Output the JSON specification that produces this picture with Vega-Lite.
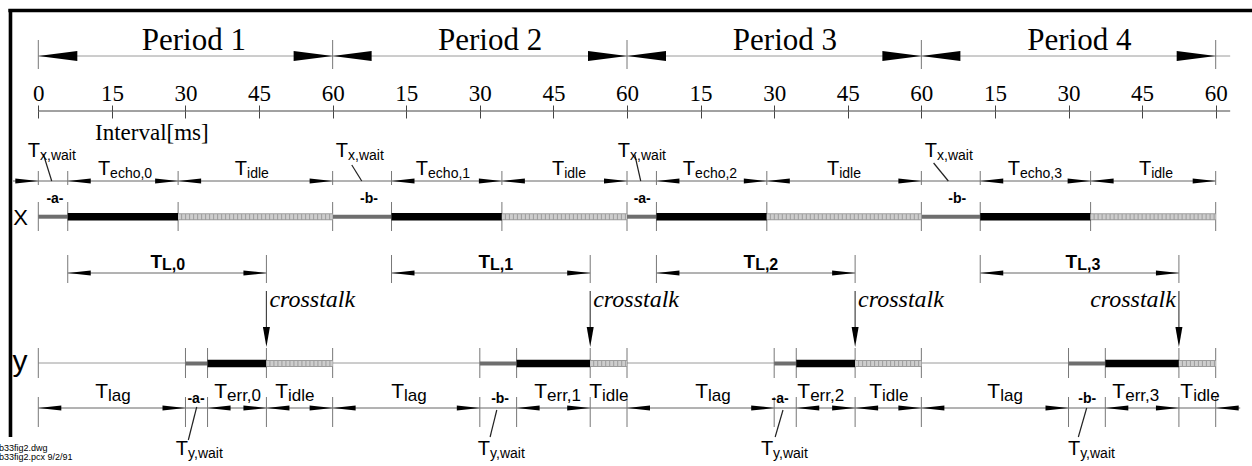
{
 "$schema": "https://vega.github.io/schema/vega-lite/v6.json",
 "width": 1252, "height": 466,
 "autosize": {"type": "none"},
 "padding": 0,
 "background": "white",
 "config": {"view": {"stroke": null}, "axis": {"grid": false}},
 "resolve": {"scale": {"color": "independent", "strokeWidth": "independent", "size": "independent", "shape": "independent"}, "axis": {"x": "independent"}},
 "encoding": {
  "x": {"field": "x", "type": "quantitative", "scale": {"domain": [0, 240], "range": [38.3, 1215.7], "nice": false, "zero": false}, "axis": null},
  "y": {"field": "y", "type": "quantitative", "scale": {"domain": [0, 466], "reverse": true, "nice": false, "zero": false}, "axis": null}
 },
 "datasets": {
  "lines": [
   {"x": -6.1, "x2": 247.4, "y": 10.5, "y2": 10.5, "kind": "frame"},
   {"x": -5.67, "x2": -5.67, "y": 9, "y2": 437, "kind": "frame"},
   {"x": 0, "x2": 242.95, "y": 56, "y2": 56, "kind": "light"},
   {"x": 0, "x2": 240, "y": 363, "y2": 363, "kind": "light"},
   {"x": 0, "x2": 242.95, "y": 111, "y2": 111, "kind": "axis"},
   {"x": -5.16, "x2": 240, "y": 181, "y2": 181, "kind": "dim"},
   {"x": 6, "x2": 46.5, "y": 273, "y2": 273, "kind": "dim"},
   {"x": 72, "x2": 112.5, "y": 273, "y2": 273, "kind": "dim"},
   {"x": 126, "x2": 166.5, "y": 273, "y2": 273, "kind": "dim"},
   {"x": 192, "x2": 232.5, "y": 273, "y2": 273, "kind": "dim"},
   {"x": 0, "x2": 245, "y": 408, "y2": 408, "kind": "dim"},
   {"x": 0, "x2": 0, "y": 40, "y2": 69, "kind": "tick"},
   {"x": 60, "x2": 60, "y": 40, "y2": 69, "kind": "tick"},
   {"x": 120, "x2": 120, "y": 40, "y2": 69, "kind": "tick"},
   {"x": 180, "x2": 180, "y": 40, "y2": 69, "kind": "tick"},
   {"x": 240, "x2": 240, "y": 40, "y2": 69, "kind": "tick"},
   {"x": 0, "x2": 0, "y": 171, "y2": 185, "kind": "tick"},
   {"x": 6, "x2": 6, "y": 171, "y2": 185, "kind": "tick"},
   {"x": 28.5, "x2": 28.5, "y": 171, "y2": 185, "kind": "tick"},
   {"x": 60, "x2": 60, "y": 171, "y2": 185, "kind": "tick"},
   {"x": 72, "x2": 72, "y": 171, "y2": 185, "kind": "tick"},
   {"x": 94.5, "x2": 94.5, "y": 171, "y2": 185, "kind": "tick"},
   {"x": 120, "x2": 120, "y": 171, "y2": 185, "kind": "tick"},
   {"x": 126, "x2": 126, "y": 171, "y2": 185, "kind": "tick"},
   {"x": 148.5, "x2": 148.5, "y": 171, "y2": 185, "kind": "tick"},
   {"x": 180, "x2": 180, "y": 171, "y2": 185, "kind": "tick"},
   {"x": 192, "x2": 192, "y": 171, "y2": 185, "kind": "tick"},
   {"x": 214.5, "x2": 214.5, "y": 171, "y2": 185, "kind": "tick"},
   {"x": 240, "x2": 240, "y": 171, "y2": 185, "kind": "tick"},
   {"x": 0, "x2": 0, "y": 202, "y2": 231, "kind": "tick"},
   {"x": 6, "x2": 6, "y": 202, "y2": 231, "kind": "tick"},
   {"x": 28.5, "x2": 28.5, "y": 202, "y2": 231, "kind": "tick"},
   {"x": 60, "x2": 60, "y": 202, "y2": 231, "kind": "tick"},
   {"x": 72, "x2": 72, "y": 202, "y2": 231, "kind": "tick"},
   {"x": 94.5, "x2": 94.5, "y": 202, "y2": 231, "kind": "tick"},
   {"x": 120, "x2": 120, "y": 202, "y2": 231, "kind": "tick"},
   {"x": 126, "x2": 126, "y": 202, "y2": 231, "kind": "tick"},
   {"x": 148.5, "x2": 148.5, "y": 202, "y2": 231, "kind": "tick"},
   {"x": 180, "x2": 180, "y": 202, "y2": 231, "kind": "tick"},
   {"x": 192, "x2": 192, "y": 202, "y2": 231, "kind": "tick"},
   {"x": 214.5, "x2": 214.5, "y": 202, "y2": 231, "kind": "tick"},
   {"x": 240, "x2": 240, "y": 202, "y2": 231, "kind": "tick"},
   {"x": 6, "x2": 6, "y": 255, "y2": 283, "kind": "tick"},
   {"x": 46.5, "x2": 46.5, "y": 255, "y2": 283, "kind": "tick"},
   {"x": 72, "x2": 72, "y": 255, "y2": 283, "kind": "tick"},
   {"x": 112.5, "x2": 112.5, "y": 255, "y2": 283, "kind": "tick"},
   {"x": 126, "x2": 126, "y": 255, "y2": 283, "kind": "tick"},
   {"x": 166.5, "x2": 166.5, "y": 255, "y2": 283, "kind": "tick"},
   {"x": 192, "x2": 192, "y": 255, "y2": 283, "kind": "tick"},
   {"x": 232.5, "x2": 232.5, "y": 255, "y2": 283, "kind": "tick"},
   {"x": 46.5, "x2": 46.5, "y": 291, "y2": 335, "kind": "xtalk"},
   {"x": 112.5, "x2": 112.5, "y": 291, "y2": 335, "kind": "xtalk"},
   {"x": 166.5, "x2": 166.5, "y": 291, "y2": 335, "kind": "xtalk"},
   {"x": 232.5, "x2": 232.5, "y": 291, "y2": 335, "kind": "xtalk"},
   {"x": 0, "x2": 0, "y": 348, "y2": 378, "kind": "tick"},
   {"x": 30, "x2": 30, "y": 348, "y2": 378, "kind": "tick"},
   {"x": 34.5, "x2": 34.5, "y": 348, "y2": 378, "kind": "tick"},
   {"x": 46.5, "x2": 46.5, "y": 348, "y2": 378, "kind": "tick"},
   {"x": 60, "x2": 60, "y": 348, "y2": 378, "kind": "tick"},
   {"x": 90, "x2": 90, "y": 348, "y2": 378, "kind": "tick"},
   {"x": 97.5, "x2": 97.5, "y": 348, "y2": 378, "kind": "tick"},
   {"x": 112.5, "x2": 112.5, "y": 348, "y2": 378, "kind": "tick"},
   {"x": 120, "x2": 120, "y": 348, "y2": 378, "kind": "tick"},
   {"x": 150, "x2": 150, "y": 348, "y2": 378, "kind": "tick"},
   {"x": 154.5, "x2": 154.5, "y": 348, "y2": 378, "kind": "tick"},
   {"x": 166.5, "x2": 166.5, "y": 348, "y2": 378, "kind": "tick"},
   {"x": 180, "x2": 180, "y": 348, "y2": 378, "kind": "tick"},
   {"x": 210, "x2": 210, "y": 348, "y2": 378, "kind": "tick"},
   {"x": 217.5, "x2": 217.5, "y": 348, "y2": 378, "kind": "tick"},
   {"x": 232.5, "x2": 232.5, "y": 348, "y2": 378, "kind": "tick"},
   {"x": 240, "x2": 240, "y": 348, "y2": 378, "kind": "tick"},
   {"x": 0, "x2": 0, "y": 397, "y2": 427, "kind": "tick"},
   {"x": 30, "x2": 30, "y": 397, "y2": 427, "kind": "tick"},
   {"x": 34.5, "x2": 34.5, "y": 397, "y2": 427, "kind": "tick"},
   {"x": 46.5, "x2": 46.5, "y": 397, "y2": 427, "kind": "tick"},
   {"x": 60, "x2": 60, "y": 397, "y2": 427, "kind": "tick"},
   {"x": 90, "x2": 90, "y": 397, "y2": 427, "kind": "tick"},
   {"x": 97.5, "x2": 97.5, "y": 397, "y2": 427, "kind": "tick"},
   {"x": 112.5, "x2": 112.5, "y": 397, "y2": 427, "kind": "tick"},
   {"x": 120, "x2": 120, "y": 397, "y2": 427, "kind": "tick"},
   {"x": 150, "x2": 150, "y": 397, "y2": 427, "kind": "tick"},
   {"x": 154.5, "x2": 154.5, "y": 397, "y2": 427, "kind": "tick"},
   {"x": 166.5, "x2": 166.5, "y": 397, "y2": 427, "kind": "tick"},
   {"x": 180, "x2": 180, "y": 397, "y2": 427, "kind": "tick"},
   {"x": 210, "x2": 210, "y": 397, "y2": 427, "kind": "tick"},
   {"x": 217.5, "x2": 217.5, "y": 397, "y2": 427, "kind": "tick"},
   {"x": 232.5, "x2": 232.5, "y": 397, "y2": 427, "kind": "tick"},
   {"x": 240, "x2": 240, "y": 397, "y2": 427, "kind": "tick"},
   {"x": 1.02, "x2": 2.73, "y": 154, "y2": 181, "kind": "leader"},
   {"x": 63.9, "x2": 65.93, "y": 165, "y2": 181, "kind": "leader"},
   {"x": 121.6, "x2": 122.8, "y": 155, "y2": 181, "kind": "leader"},
   {"x": 182.5, "x2": 185.5, "y": 163, "y2": 181, "kind": "leader"},
   {"x": 32.29, "x2": 30.58, "y": 407, "y2": 440, "kind": "leader"},
   {"x": 93.46, "x2": 92.09, "y": 410, "y2": 437, "kind": "leader"},
   {"x": 151.8, "x2": 150.2, "y": 410, "y2": 437, "kind": "leader"},
   {"x": 213.7, "x2": 212.0, "y": 408, "y2": 437, "kind": "leader"}
  ],
  "bars": [
   {"x": 0, "x2": 6, "y": 216.7, "kind": "wait"},
   {"x": 6, "x2": 28.5, "y": 216.7, "kind": "echo"},
   {"x": 28.5, "x2": 60, "y": 216.7, "kind": "idle"},
   {"x": 60, "x2": 72, "y": 216.7, "kind": "wait"},
   {"x": 72, "x2": 94.5, "y": 216.7, "kind": "echo"},
   {"x": 94.5, "x2": 120, "y": 216.7, "kind": "idle"},
   {"x": 120, "x2": 126, "y": 216.7, "kind": "wait"},
   {"x": 126, "x2": 148.5, "y": 216.7, "kind": "echo"},
   {"x": 148.5, "x2": 180, "y": 216.7, "kind": "idle"},
   {"x": 180, "x2": 192, "y": 216.7, "kind": "wait"},
   {"x": 192, "x2": 214.5, "y": 216.7, "kind": "echo"},
   {"x": 214.5, "x2": 240, "y": 216.7, "kind": "idle"},
   {"x": 30, "x2": 34.5, "y": 363.5, "kind": "wait"},
   {"x": 34.5, "x2": 46.5, "y": 363.5, "kind": "echo"},
   {"x": 46.5, "x2": 60, "y": 363.5, "kind": "idle"},
   {"x": 90, "x2": 97.5, "y": 363.5, "kind": "wait"},
   {"x": 97.5, "x2": 112.5, "y": 363.5, "kind": "echo"},
   {"x": 112.5, "x2": 120, "y": 363.5, "kind": "idle"},
   {"x": 150, "x2": 154.5, "y": 363.5, "kind": "wait"},
   {"x": 154.5, "x2": 166.5, "y": 363.5, "kind": "echo"},
   {"x": 166.5, "x2": 180, "y": 363.5, "kind": "idle"},
   {"x": 210, "x2": 217.5, "y": 363.5, "kind": "wait"},
   {"x": 217.5, "x2": 232.5, "y": 363.5, "kind": "echo"},
   {"x": 232.5, "x2": 240, "y": 363.5, "kind": "idle"}
  ],
  "heads": [
   {"x": 0, "y": 56, "head": "PL"}, {"x": 60, "y": 56, "head": "PL"}, {"x": 120, "y": 56, "head": "PL"}, {"x": 180, "y": 56, "head": "PL"},
   {"x": 60, "y": 56, "head": "PR"}, {"x": 120, "y": 56, "head": "PR"}, {"x": 180, "y": 56, "head": "PR"}, {"x": 240, "y": 56, "head": "PR"},
   {"x": 0, "y": 181, "head": "R"},
   {"x": 6, "y": 181, "head": "L"}, {"x": 28.5, "y": 181, "head": "R"},
   {"x": 28.5, "y": 181, "head": "L"}, {"x": 60, "y": 181, "head": "R"},
   {"x": 72, "y": 181, "head": "L"}, {"x": 94.5, "y": 181, "head": "R"},
   {"x": 94.5, "y": 181, "head": "L"}, {"x": 120, "y": 181, "head": "R"},
   {"x": 126, "y": 181, "head": "L"}, {"x": 148.5, "y": 181, "head": "R"},
   {"x": 148.5, "y": 181, "head": "L"}, {"x": 180, "y": 181, "head": "R"},
   {"x": 192, "y": 181, "head": "L"}, {"x": 214.5, "y": 181, "head": "R"},
   {"x": 214.5, "y": 181, "head": "L"}, {"x": 240, "y": 181, "head": "R"},
   {"x": 6, "y": 273, "head": "L"}, {"x": 46.5, "y": 273, "head": "R"},
   {"x": 72, "y": 273, "head": "L"}, {"x": 112.5, "y": 273, "head": "R"},
   {"x": 126, "y": 273, "head": "L"}, {"x": 166.5, "y": 273, "head": "R"},
   {"x": 192, "y": 273, "head": "L"}, {"x": 232.5, "y": 273, "head": "R"},
   {"x": 46.5, "y": 347, "head": "D"}, {"x": 112.5, "y": 347, "head": "D"}, {"x": 166.5, "y": 347, "head": "D"}, {"x": 232.5, "y": 347, "head": "D"},
   {"x": 0, "y": 408, "head": "L"}, {"x": 30, "y": 408, "head": "R"},
   {"x": 34.5, "y": 408, "head": "L"}, {"x": 46.5, "y": 408, "head": "R"},
   {"x": 46.5, "y": 408, "head": "L"}, {"x": 60, "y": 408, "head": "R"},
   {"x": 60, "y": 408, "head": "L"}, {"x": 90, "y": 408, "head": "R"},
   {"x": 97.5, "y": 408, "head": "L"}, {"x": 112.5, "y": 408, "head": "R"},
   {"x": 120, "y": 408, "head": "L"}, {"x": 150, "y": 408, "head": "R"},
   {"x": 154.5, "y": 408, "head": "L"}, {"x": 166.5, "y": 408, "head": "R"},
   {"x": 166.5, "y": 408, "head": "L"}, {"x": 180, "y": 408, "head": "R"},
   {"x": 180, "y": 408, "head": "L"}, {"x": 210, "y": 408, "head": "R"},
   {"x": 217.5, "y": 408, "head": "L"}, {"x": 232.5, "y": 408, "head": "R"},
   {"x": 240, "y": 408, "head": "L"}
  ],
  "periods": [
   {"x": 31.7, "y": 50, "text": "Period 1"},
   {"x": 92.1, "y": 50, "text": "Period 2"},
   {"x": 152.2, "y": 50, "text": "Period 3"},
   {"x": 212.2, "y": 50, "text": "Period 4"}
  ],
  "interval": [{"x": 11.56, "y": 140, "text": "Interval[ms]"}],
  "tlabX": [
   {"x": 0.35, "y": 157, "sub": "x,wait"},
   {"x": 63.14, "y": 157, "sub": "x,wait"},
   {"x": 120.63, "y": 157, "sub": "x,wait"},
   {"x": 183.2, "y": 157, "sub": "x,wait"},
   {"x": 14.64, "y": 175, "sub": "echo,0"},
   {"x": 79.45, "y": 175, "sub": "echo,1"},
   {"x": 133.88, "y": 175, "sub": "echo,2"},
   {"x": 200.1, "y": 175, "sub": "echo,3"},
   {"x": 42.55, "y": 175, "sub": "idle"},
   {"x": 107.2, "y": 175, "sub": "idle"},
   {"x": 163.24, "y": 175, "sub": "idle"},
   {"x": 226.85, "y": 175, "sub": "idle"},
   {"x": 30.52, "y": 455, "sub": "y,wait"},
   {"x": 92.09, "y": 455, "sub": "y,wait"},
   {"x": 149.78, "y": 455, "sub": "y,wait"},
   {"x": 212.37, "y": 455, "sub": "y,wait"}
  ],
  "tlabY": [
   {"x": 14.21, "y": 398, "sub": "lag"},
   {"x": 74.55, "y": 398, "sub": "lag"},
   {"x": 136.53, "y": 398, "sub": "lag"},
   {"x": 196.07, "y": 398, "sub": "lag"},
   {"x": 38.47, "y": 398, "sub": "err,0"},
   {"x": 103.7, "y": 398, "sub": "err,1"},
   {"x": 157.33, "y": 398, "sub": "err,2"},
   {"x": 221.55, "y": 398, "sub": "err,3"},
   {"x": 50.9, "y": 398, "sub": "idle"},
   {"x": 114.9, "y": 398, "sub": "idle"},
   {"x": 171.98, "y": 398, "sub": "idle"},
   {"x": 235.4, "y": 398, "sub": "idle"}
  ],
  "tlabL": [
   {"x": 25.22, "y": 268, "sub": "L,0"},
   {"x": 92.09, "y": 268, "sub": "L,1"},
   {"x": 146.12, "y": 268, "sub": "L,2"},
   {"x": 211.77, "y": 268, "sub": "L,3"}
  ],
  "dashes": [
   {"x": 3.4, "y": 203, "text": "-a-"},
   {"x": 67.4, "y": 203, "text": "-b-"},
   {"x": 123.1, "y": 203, "text": "-a-"},
   {"x": 187.3, "y": 203, "text": "-b-"},
   {"x": 32.15, "y": 403, "text": "-a-"},
   {"x": 94.13, "y": 403, "text": "-b-"},
   {"x": 151.2, "y": 403, "text": "-a-"},
   {"x": 213.8, "y": 403, "text": "-b-"}
  ],
  "xtalkL": [
   {"x": 46.5, "y": 307, "text": "crosstalk"},
   {"x": 112.5, "y": 307, "text": "crosstalk"},
   {"x": 166.5, "y": 307, "text": "crosstalk"}
  ],
  "xtalkR": [{"x": 232.5, "y": 307, "text": "crosstalk"}],
  "rows": [
   {"x": -3.63, "y": 225, "text": "X"},
   {"x": -3.73, "y": 371, "text": "y"}
  ],
  "notes": [
   {"x": -8, "y": 451, "text": "b33fig2.dwg"},
   {"x": -8, "y": 460, "text": "b33fig2.pcx  9/2/91"}
  ]
 },
 "layer": [
  {
   "data": {"name": "lines"},
   "mark": {"type": "rule"},
   "encoding": {
    "x": {"field": "x", "type": "quantitative", "scale": {"domain": [0, 240], "range": [38.3, 1215.7], "nice": false, "zero": false},
          "axis": {"orient": "top", "offset": -111, "values": [0, 15, 30, 45, 60, 75, 90, 105, 120, 135, 150, 165, 180, 195, 210, 225, 240],
                   "labelExpr": "datum.value == 0 ? '0' : (datum.value % 60 == 0 ? '60' : '' + (datum.value % 60))",
                   "tickSize": 6, "tickColor": "#444", "tickWidth": 1, "domain": false, "title": null,
                   "labelFont": "Liberation Serif", "labelFontSize": 23, "labelColor": "#000",
                   "labelPadding": 0, "labelFlush": false, "labelOverlap": false}},
    "x2": {"field": "x2"},
    "y2": {"field": "y2"},
    "color": {"field": "kind", "type": "nominal", "legend": null,
              "scale": {"domain": ["frame", "light", "axis", "dim", "tick", "xtalk", "leader"], "range": ["#000", "#9a9a9a", "#444", "#666", "#777", "#444", "#222"]}},
    "strokeWidth": {"field": "kind", "type": "nominal", "legend": null,
              "scale": {"type": "ordinal", "domain": ["frame", "light", "axis", "dim", "tick", "xtalk", "leader"], "range": [3.6, 1, 1, 1, 1, 1.2, 1.2]}}
   }
  },
  {
   "data": {"name": "bars"},
   "mark": {"type": "rule", "strokeCap": "butt"},
   "encoding": {
    "x": {"field": "x", "type": "quantitative", "scale": {"domain": [0, 240], "range": [38.3, 1215.7], "nice": false, "zero": false},
          "axis": {"orient": "bottom", "offset": -355, "values": [0, 15, 30, 45, 60, 75, 90, 105, 120, 135, 150, 165, 180, 195, 210, 225, 240],
                   "tickSize": 7, "tickColor": "#444", "tickWidth": 1, "labels": false, "domain": false, "title": null}},
    "x2": {"field": "x2"},
    "color": {"field": "kind", "type": "nominal", "legend": null,
              "scale": {"domain": ["wait", "echo", "idle"], "range": ["#6e6e6e", "#000000", "#9c9c9c"]}},
    "strokeWidth": {"field": "kind", "type": "nominal", "legend": null,
              "scale": {"type": "ordinal", "domain": ["wait", "echo", "idle"], "range": [4, 7.5, 7]}}
   }
  },
  {
   "data": {"name": "bars"},
   "transform": [{"filter": "datum.kind == 'idle'"}],
   "mark": {"type": "rule", "strokeCap": "butt", "color": "#cdcdcd", "strokeWidth": 5, "strokeDash": [3, 1]},
   "encoding": {"x2": {"field": "x2"}}
  },
  {
   "data": {"name": "heads"},
   "mark": {"type": "point", "filled": true, "size": 4, "opacity": 1, "color": "#000", "strokeWidth": 0},
   "encoding": {
    "shape": {"field": "head", "type": "nominal", "legend": null,
              "scale": {"domain": ["L", "R", "PL", "PR", "D"],
                        "range": ["M0,0L23,-2.6L23,2.6Z", "M0,0L-23,-2.6L-23,2.6Z", "M0,0L39,-5L39,5Z", "M0,0L-39,-5L-39,5Z", "M0,0L-3.5,-20L3.5,-20Z"]}}
   }
  },
  {
   "data": {"name": "periods"},
   "mark": {"type": "text", "font": "Liberation Serif", "fontSize": 31, "align": "center", "baseline": "alphabetic", "color": "#000"},
   "encoding": {"text": {"field": "text"}}
  },
  {
   "data": {"name": "interval"},
   "mark": {"type": "text", "font": "Liberation Serif", "fontSize": 23, "align": "left", "baseline": "alphabetic", "color": "#000"},
   "encoding": {"text": {"field": "text"}}
  },
  {
   "data": {"name": "tlabX"},
   "mark": {"type": "text", "text": "T", "font": "Liberation Sans", "fontSize": 20, "align": "right", "baseline": "alphabetic", "color": "#000"}
  },
  {
   "data": {"name": "tlabX"},
   "mark": {"type": "text", "font": "Liberation Sans", "fontSize": 14, "align": "left", "baseline": "alphabetic", "dy": 3, "color": "#000"},
   "encoding": {"text": {"field": "sub"}}
  },
  {
   "data": {"name": "tlabY"},
   "mark": {"type": "text", "text": "T", "font": "Liberation Sans", "fontSize": 21, "align": "right", "baseline": "alphabetic", "color": "#000"}
  },
  {
   "data": {"name": "tlabY"},
   "mark": {"type": "text", "font": "Liberation Sans", "fontSize": 17, "align": "left", "baseline": "alphabetic", "dy": 3, "color": "#000"},
   "encoding": {"text": {"field": "sub"}}
  },
  {
   "data": {"name": "tlabL"},
   "mark": {"type": "text", "text": "T", "font": "Liberation Sans", "fontWeight": "bold", "fontSize": 19, "align": "right", "baseline": "alphabetic", "color": "#000"}
  },
  {
   "data": {"name": "tlabL"},
   "mark": {"type": "text", "font": "Liberation Sans", "fontWeight": "bold", "fontSize": 16, "align": "left", "baseline": "alphabetic", "dy": 2, "color": "#000"},
   "encoding": {"text": {"field": "sub"}}
  },
  {
   "data": {"name": "dashes"},
   "mark": {"type": "text", "font": "Liberation Sans", "fontWeight": "bold", "fontSize": 14, "align": "center", "baseline": "alphabetic", "color": "#000"},
   "encoding": {"text": {"field": "text"}}
  },
  {
   "data": {"name": "xtalkL"},
   "mark": {"type": "text", "font": "Liberation Serif", "fontStyle": "italic", "fontSize": 24, "align": "left", "baseline": "alphabetic", "dx": 3, "color": "#000"},
   "encoding": {"text": {"field": "text"}}
  },
  {
   "data": {"name": "xtalkR"},
   "mark": {"type": "text", "font": "Liberation Serif", "fontStyle": "italic", "fontSize": 24, "align": "right", "baseline": "alphabetic", "dx": -3, "color": "#000"},
   "encoding": {"text": {"field": "text"}}
  },
  {
   "data": {"name": "rows"},
   "mark": {"type": "text", "font": "Liberation Sans", "align": "center", "baseline": "alphabetic", "color": "#000"},
   "encoding": {"text": {"field": "text"},
                "size": {"field": "text", "type": "nominal", "legend": null, "scale": {"type": "ordinal", "domain": ["X", "y"], "range": [22, 30]}}}
  },
  {
   "data": {"name": "notes"},
   "mark": {"type": "text", "font": "Liberation Sans", "fontSize": 9, "align": "left", "baseline": "alphabetic", "color": "#000"},
   "encoding": {"text": {"field": "text"}}
  }
 ]
}
